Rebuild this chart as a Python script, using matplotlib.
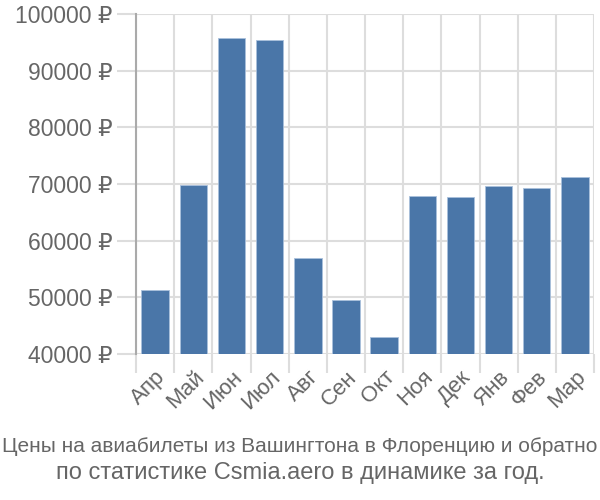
import numpy as np
import matplotlib
matplotlib.use('Agg')
import matplotlib.pyplot as plt
from matplotlib import font_manager

# Data
months = ['Апр', 'Май', 'Июн', 'Июл', 'Авг', 'Сен', 'Окт', 'Ноя', 'Дек', 'Янв', 'Фев', 'Мар']
prices = [51300, 69800, 95700, 95400, 56900, 49500, 43000, 67900, 67700, 69600, 69300, 71200]
yticks = [40000, 50000, 60000, 70000, 80000, 90000, 100000]
title_1 = 'Цены на авиабилеты из Вашингтона в Флоренцию и обратно'
title_2 = 'по статистике Csmia.aero в динамике за год.'

plt.rcParams['font.family'] = ['Liberation Sans', 'DejaVu Sans']
text_color = '#666666'
grid_color = '#dddddd'

# first title line is squeezed to fit the width in the original
names = {f.name for f in font_manager.fontManager.ttflist}
if 'Liberation Sans Narrow' in names:
    t1_family, t1_size = ['Liberation Sans Narrow', 'DejaVu Sans'], 18.3
else:
    t1_family, t1_size = ['Liberation Sans', 'DejaVu Sans'], 15

fig = plt.figure(figsize=(6, 5), dpi=100)
ax = fig.add_axes([0.2267, 0.292, 0.7633, 0.68])

x = np.arange(len(months))
ax.bar(x, prices, width=0.72, color='#4a76a8', edgecolor='#a9c0dc', linewidth=0.6, zorder=3)

ax.set_xlim(-0.5, len(months) - 0.5)
ax.set_ylim(40000, 100000)

ax.set_yticks(yticks)
ax.set_yticklabels([f'{v} ₽' for v in yticks], fontsize=16.5, color=text_color)
ax.set_xticks(x)
ax.set_xticklabels(months, rotation=45, ha='right', rotation_mode='anchor', fontsize=16, color=text_color)
ax.tick_params(axis='x', which='major', length=0, pad=9)
ax.set_xticks(np.arange(-0.5, len(months), 1), minor=True)
ax.tick_params(axis='x', which='minor', length=14, color=grid_color, width=1.5)
ax.tick_params(axis='y', length=14, color=grid_color, width=1.5, pad=3)

ax.grid(True, which='minor', axis='x', color=grid_color, linewidth=1.5, zorder=0)
ax.grid(True, which='major', axis='y', color=grid_color, linewidth=1.5, zorder=0)

for s in ['top', 'right', 'bottom']:
    ax.spines[s].set_visible(False)
ax.spines['left'].set_color('#aaaaaa')
ax.spines['left'].set_linewidth(1.5)
ax.spines['left'].set_zorder(4)

fig.text(0.5, 0.106, title_1, ha='center', va='center', fontsize=t1_size, color=text_color,
         family=t1_family)
fig.text(0.5, 0.054, title_2, ha='center', va='center', fontsize=17, color=text_color)

plt.savefig('out.png', dpi=100)
